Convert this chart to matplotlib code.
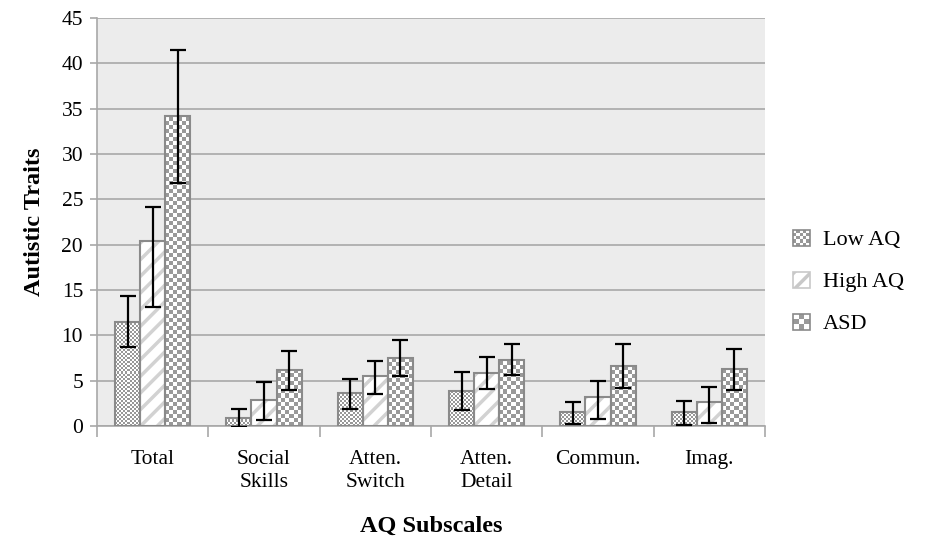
import numpy as np
import matplotlib
matplotlib.use("Agg")
import matplotlib.pyplot as plt
from matplotlib.patches import Rectangle, Patch
from matplotlib.legend_handler import HandlerBase

# Data
categories = ["Total", "Social\nSkills", "Atten.\nSwitch", "Atten.\nDetail", "Commun.", "Imag."]
series = ["Low AQ", "High AQ", "ASD"]
low_aq = [11.5, 0.9, 3.6, 3.9, 1.5, 1.5]
high_aq = [20.4, 2.9, 5.5, 5.8, 3.2, 2.6]
asd = [34.2, 6.2, 7.5, 7.3, 6.6, 6.3]
# error bar ends (lower, upper)
low_aq_lo = [8.7, -0.1, 1.9, 1.8, 0.2, 0.15]
low_aq_hi = [14.3, 1.9, 5.2, 6.0, 2.6, 2.8]
high_aq_lo = [13.1, 0.7, 3.5, 4.1, 0.8, 0.3]
high_aq_hi = [24.1, 4.8, 7.2, 7.6, 5.0, 4.3]
asd_lo = [26.8, 4.0, 5.5, 5.6, 4.2, 4.0]
asd_hi = [41.5, 8.3, 9.5, 9.0, 9.0, 8.5]
yticks = list(range(0, 50, 5))

plt.rcParams["font.family"] = ["Liberation Serif", "DejaVu Serif"]
plt.rcParams["hatch.linewidth"] = 2.5

fig = plt.figure(figsize=(9.3, 5.4), dpi=100)
ax = fig.add_axes([97 / 930, 114 / 540, 668 / 930, 408 / 540])
ax.set_facecolor("#ececec")
ax.set_xlim(-0.5, len(categories) - 0.5)
ax.set_ylim(0, 45)

x = np.arange(len(categories))
w = 0.225
edge = "#8a8a8a"


def checker_fill(rect, cell, dark):
    # paint a checker pattern of `cell` pixels inside a bar rectangle
    x0, y0 = rect.get_x(), rect.get_y()
    x1, y1 = x0 + rect.get_width(), y0 + rect.get_height()
    p0 = ax.transData.transform((x0, y0))
    p1 = ax.transData.transform((x1, y1))
    nx = max(1, int(round((p1[0] - p0[0]))))
    ny = max(1, int(round((p1[1] - p0[1]))))
    jj, ii = np.meshgrid(np.arange(nx), np.arange(ny))
    pat = ((ii // cell + jj // cell) % 2).astype(float)
    img = np.where(pat[..., None] > 0, np.array(dark)[None, None, :], np.ones(3)[None, None, :])
    ax.imshow(img, extent=(x0, x1, y0, y1), origin="lower", aspect="auto",
              interpolation="none", zorder=2)


def to_rgb(h):
    return np.array(matplotlib.colors.to_rgb(h))


vals = [low_aq, high_aq, asd]
los = [low_aq_lo, high_aq_lo, asd_lo]
his = [low_aq_hi, high_aq_hi, asd_hi]
for k, (v, lo, hi) in enumerate(zip(vals, los, his)):
    pos = x + (k - 1) * w
    if k == 1:
        ax.bar(pos, v, w, color="white", edgecolor="#d2d2d2", hatch="//", linewidth=0, zorder=2)
    else:
        bars = ax.bar(pos, v, w, color="none", linewidth=0, zorder=2)
        for r in bars:
            checker_fill(r, 2 if k == 0 else 4, to_rgb("#989898" if k == 0 else "#999999"))
    ax.bar(pos, v, w, color="none", edgecolor=edge, linewidth=1.5, zorder=3)
    yerr = [np.array(v) - np.array(lo), np.array(hi) - np.array(v)]
    ax.errorbar(pos, v, yerr=yerr, fmt="none", ecolor="black", elinewidth=1.6,
                capsize=6, capthick=1.6, zorder=4)

ax.set_xlim(-0.5, len(categories) - 0.5)
ax.set_ylim(0, 45)

ax.set_yticks(yticks)
ax.yaxis.grid(True, color="#a8a8a8", linewidth=1.2)
ax.set_axisbelow(True)
ax.set_xticks(np.arange(len(categories) + 1) - 0.5)
ax.set_xticklabels([])
ax.set_xticks(x, minor=True)
ax.set_xticklabels(categories, minor=True, fontsize=15.5, linespacing=1.3)
ax.tick_params(axis="x", which="major", length=8, color="#a8a8a8", width=1.2)
ax.tick_params(axis="x", which="minor", length=0, pad=17)
ax.tick_params(axis="y", length=5, color="#a8a8a8", width=1.2, labelsize=15.5, pad=5)
for s in ["top", "right"]:
    ax.spines[s].set_visible(False)
for s in ["left", "bottom"]:
    ax.spines[s].set_color("#a8a8a8")
    ax.spines[s].set_linewidth(1.2)

ax.set_xlabel("AQ Subscales", fontsize=17.5, fontweight="bold", labelpad=17)
ax.set_ylabel("Autistic Traits", fontsize=17.5, fontweight="bold", labelpad=12)


class CheckerHandler(HandlerBase):
    def __init__(self, n, dark):
        super().__init__()
        self.n = n
        self.dark = dark

    def create_artists(self, legend, orig_handle, xdescent, ydescent, width, height, fontsize, trans):
        x0, y0 = -xdescent, -ydescent
        cw, ch = width / self.n, height / self.n
        arts = []
        for i in range(self.n):
            for j in range(self.n):
                c = self.dark if (i + j) % 2 else "white"
                arts.append(Rectangle((x0 + i * cw, y0 + j * ch), cw, ch, facecolor=c,
                                      edgecolor="none", transform=trans))
        arts.append(Rectangle((x0, y0), width, height, facecolor="none", edgecolor=edge,
                              linewidth=1.2, transform=trans))
        return arts


h_low = Patch(label=series[0])
h_high = Patch(facecolor="white", edgecolor="#c8c8c8", hatch="//", linewidth=1.2, label=series[1])
h_asd = Patch(label=series[2])
fig.legend(handles=[h_low, h_high, h_asd], loc="center left",
           bbox_to_anchor=(793 / 930, 1 - 282 / 540), frameon=False, fontsize=16,
           handlelength=0.75, handleheight=0.75, handletextpad=0.6, labelspacing=0.95,
           borderpad=0, borderaxespad=0,
           handler_map={h_low: CheckerHandler(5, "#989898"), h_asd: CheckerHandler(3, "#999999")})

fig.savefig("out.png", dpi=100, facecolor="white")
